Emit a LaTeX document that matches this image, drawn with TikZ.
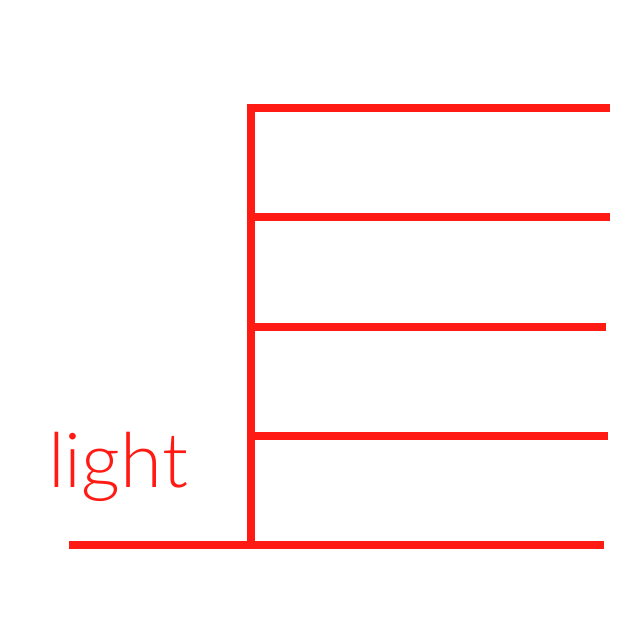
\documentclass[tikz,border=0pt]{standalone}
\usepackage{fontspec}
\newfontfamily\lightfont{Lato Light}
\definecolor{lred}{RGB}{255,26,20}
\tikzset{bar/.style={draw=lred,line width=8pt,line cap=butt,line join=miter}}
\begin{document}
\begin{tikzpicture}[x=1pt,y=-1pt]
\useasboundingbox (0,0) rectangle (622,618);
\coordinate (top) at (251,108);
\coordinate (bot) at (251,545);
\draw[bar] (610,108) -- (top) -- (bot);
\draw[bar] (251,217) -- (610,217);
\draw[bar] (251,327) -- (606,327);
\draw[bar] (251,436) -- (608,436);
\draw[bar] (69,545) -- (604,545);
\node[anchor=base west,inner sep=0pt,text=lred,font=\lightfont\fontsize{76}{80}\selectfont] (lbl) at (48,487) {light};
\end{tikzpicture}
\end{document}
